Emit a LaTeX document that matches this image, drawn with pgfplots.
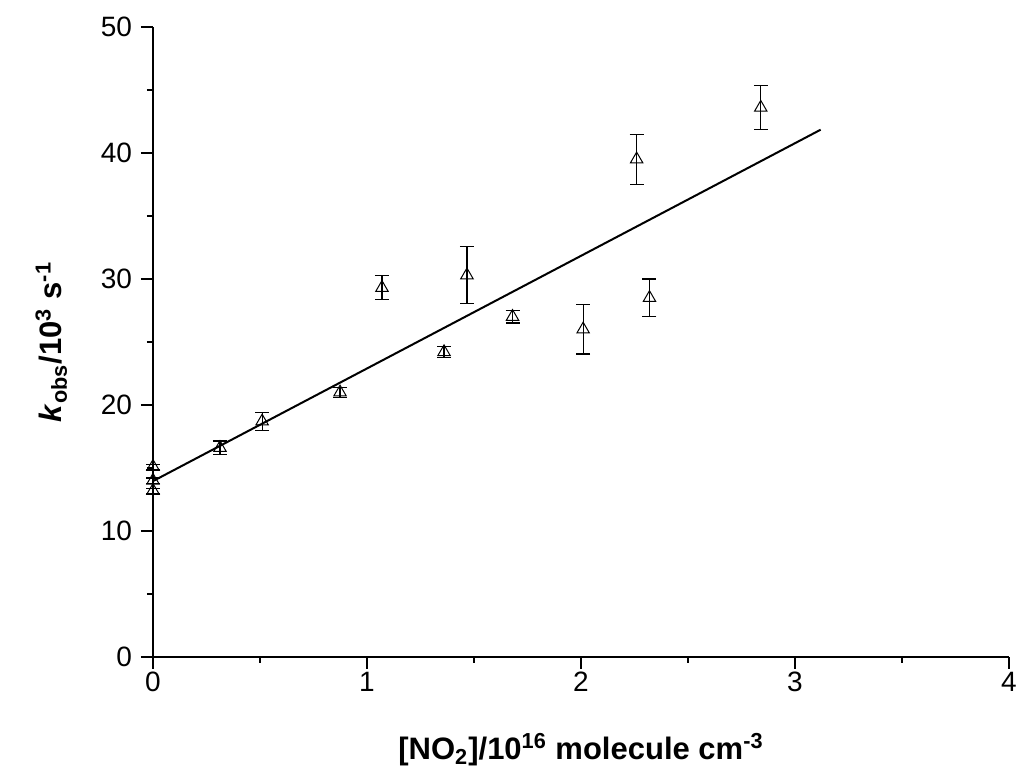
\documentclass[border=0pt]{standalone}
\usepackage{fontspec}
\setmainfont{Liberation Sans}
\usepackage{pgfplots}
\pgfplotsset{compat=1.18}
\usetikzlibrary{calc}

\begin{document}
\begin{tikzpicture}
\begin{axis}[
    name=ax,
    scale only axis,
    width=428pt,
    height=315pt,
    xmin=0, xmax=4,
    ymin=0, ymax=50,
    axis x line*=bottom,
    axis y line*=left,
    axis line style={line width=1pt},
    xtick={0,1,2,3,4},
    ytick={0,10,20,30,40,50},
    minor x tick num=1,
    minor y tick num=1,
    tick align=outside,
    major tick length=6pt,
    minor tick length=3pt,
    every tick/.style={line width=1pt, black},
    /pgf/number format/assume math mode=true,
    ticklabel style={font=\fontsize{14}{16}\selectfont},
    xticklabel style={yshift=2pt},
    yticklabel style={xshift=-1pt},
    xlabel={\textbf{[NO\textsubscript{2}]/10\textsuperscript{16} molecule cm\textsuperscript{-3}}},
    ylabel={\textbf{\textit{k}\textsubscript{obs}/10\textsuperscript{3} s\textsuperscript{-1}}},
    label style={font=\fontsize{15.5}{18}\selectfont},
    xlabel style={yshift=-14pt},
    ylabel style={yshift=10pt},
    clip=false,
]
\addplot[black, line width=1pt] coordinates {(0,13.96) (3.12,41.85)};
\addplot[only marks, black, mark=triangle, mark size=3.6pt,
    mark options={fill=white, line width=0.5pt},
    error bars/.cd, y dir=both, y explicit,
    error bar style={line width=0.6pt},
    error mark options={rotate=90, mark size=3.5pt, line width=0.6pt}]
  coordinates {
    (0.00,15.1) +- (0,0.2)
    (0.00,14.0) +- (0,0.2)
    (0.00,13.2) +- (0,0.2)
    (0.313,16.6) +- (0,0.55)
    (0.51,18.7) +- (0,0.7)
    (0.874,21.0) +- (0,0.4)
    (1.07,29.3) +- (0,0.95)
    (1.36,24.2) +- (0,0.45)
    (1.467,30.3) +- (0,2.25)
    (1.68,27.0) +- (0,0.5)
    (2.01,26.0) +- (0,1.95)
    (2.26,39.5) +- (0,1.97)
    (2.32,28.5) +- (0,1.5)
    (2.84,43.6) +- (0,1.75)
  };
\end{axis}
\pgfresetboundingbox
\path ($(ax.south west)+(-76.5pt,-63.5pt)$) rectangle ($(ax.north east)+(3.5pt,13.5pt)$);
\end{tikzpicture}
\end{document}
